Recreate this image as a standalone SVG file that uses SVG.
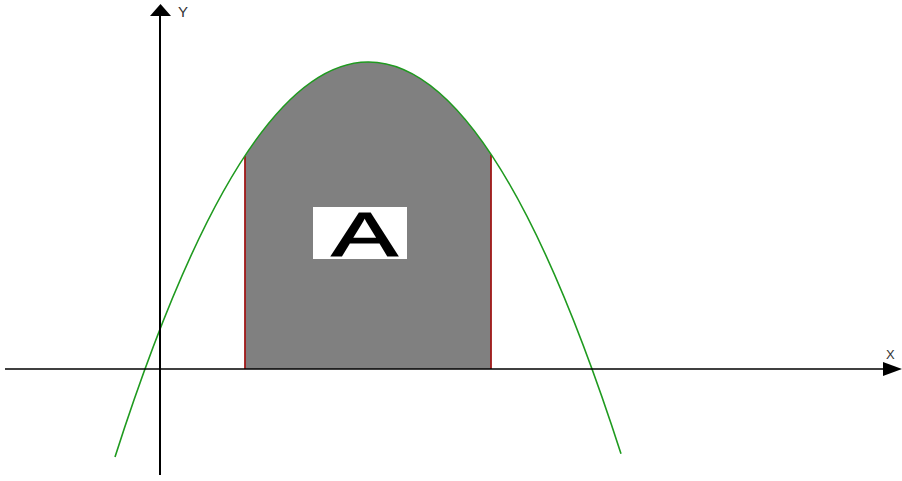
<svg xmlns="http://www.w3.org/2000/svg" width="902" height="481" viewBox="0 0 902 481">
<style>
.axis{stroke:#000;fill:none}
.curve{stroke:#1f9a1f;stroke-width:1.6;fill:none}
.bound{stroke:#a01818;stroke-width:1.8}
.lbl{font-family:"Liberation Sans",Arial,sans-serif;fill:#333}
</style>
<rect width="902" height="481" fill="#fff"/>
<g id="region">
<path d="M245,369 L245,155.7 Q368,-31 491,154.2 L491,369 Z" fill="#808080"/>
<line class="bound" x1="245" y1="156" x2="245" y2="369"/>
<line class="bound" x1="491" y1="155" x2="491" y2="369"/>
</g>
<g id="curve">
<path class="curve" d="M115,456.9 Q368,-331.4 621,453.8"/>
</g>
<g id="axes">
<line class="axis" stroke-width="1.5" x1="5" y1="369" x2="886" y2="369"/>
<polygon points="902,369 883,362 883,376" fill="#000"/>
<line class="axis" stroke-width="2" x1="160" y1="14" x2="160" y2="475"/>
<polygon points="160.5,4 150,16 171,16" fill="#000"/>
<text class="lbl" x="178" y="17" font-size="15">Y</text>
<text class="lbl" x="886" y="359" font-size="13">X</text>
</g>
<g id="label">
<rect x="313" y="207" width="94" height="52" fill="#fff"/>
<text x="0" y="0" font-family="'Liberation Sans',Arial,sans-serif" font-size="62" fill="#000" stroke="#000" stroke-width="1.2" text-anchor="middle" transform="translate(364.5,256) scale(1.6,1)">A</text>
</g>
</svg>
